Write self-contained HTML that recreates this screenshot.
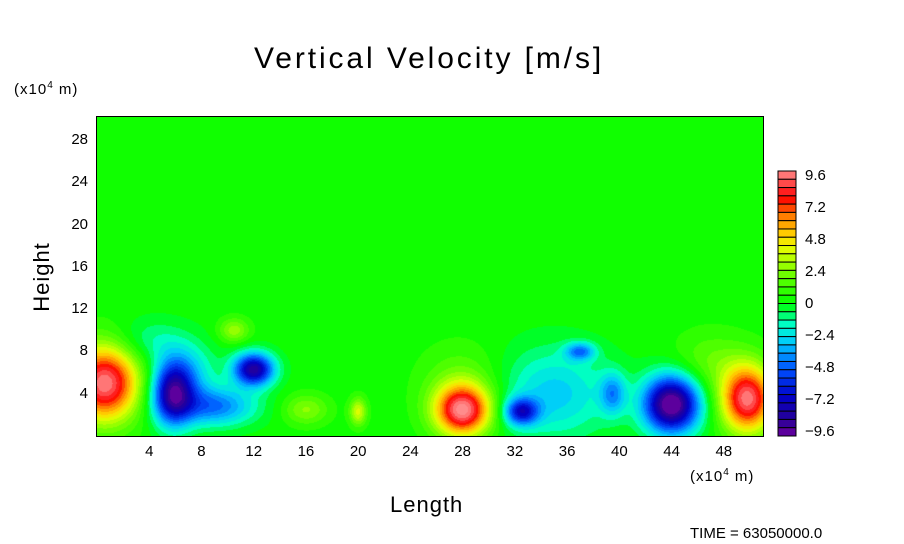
<!DOCTYPE html>
<html><head><meta charset="utf-8">
<style>
body{margin:0;background:#fff;width:904px;height:544px;overflow:hidden;position:relative;font-family:"Liberation Sans",sans-serif;}
.t{position:absolute;color:#000;white-space:nowrap;}
</style></head><body>
<div class="t" style="left:254px;top:42px;font-size:30px;letter-spacing:2.9px;">Vertical Velocity [m/s]</div>
<div class="t" style="left:14px;top:80px;font-size:15px;letter-spacing:1px;">(x10<sup style="font-size:10px">4</sup> m)</div>
<div class="t" style="left:690px;top:467px;font-size:15px;letter-spacing:1px;">(x10<sup style="font-size:10px">4</sup> m)</div>
<div class="t" style="left:2px;top:264px;font-size:22px;letter-spacing:1px;transform:rotate(-90deg);width:80px;text-align:center;">Height</div>
<div class="t" style="left:390px;top:492px;font-size:22px;letter-spacing:1px;">Length</div>
<div class="t" style="left:690px;top:525px;font-size:15px;">TIME = 63050000.0</div>
<canvas id="plot" width="666" height="319" style="position:absolute;left:97px;top:117px;"></canvas>
<div style="position:absolute;left:96px;top:116px;width:666px;height:319px;border:1px solid #000;"></div>
<div id="ticks"></div>
<svg id="cbar" width="904" height="544" style="position:absolute;left:0;top:0;pointer-events:none"></svg>
<script>
const xTicks=[4,8,12,16,20,24,28,32,36,40,44,48];
const yTicks=[4,8,12,16,20,24,28];
const cbarLabels=["9.6","7.2","4.8","2.4","0","\u22122.4","\u22124.8","\u22127.2","\u22129.6"];
// velocity blobs: centre x, centre y, amplitude, spread x, spread y
const blobX=[0.6,5.8,12,9,20,16,28,28,32.5,35,37,39.5,44,49.8,10.5,7,47,4];
const blobY=[5,4,6.3,2.8,2.3,2.5,2.4,5,2.3,4,8,4,3,3.5,10,6,7,9];
const blobA=[9.2,-7.8,-8.5,-4.5,3.5,2.2,9,1.5,-6,-3,-4,-3.5,-10.5,9,2.5,-2.5,1.5,-1.5];
const blobSX=[1.8,1.1,1.1,2.2,0.45,1.2,1.5,2.2,0.9,3,0.8,0.7,1.5,1.4,0.8,1.5,2,2];
const blobSY=[2.5,2.1,1.1,1.3,0.9,1,1.7,2.5,0.9,3,0.6,1.4,1.9,2.2,0.8,2,2,1.5];
const X0=0,X1=51,Y0=0,Y1=30.2,W=666,H=319;
const sx=v=>(v-X0)/(X1-X0)*W, sy=v=>H-(v-Y0)/(Y1-Y0)*H;
const stops=[[0,[110,0,160]],[0.06,[40,0,150]],[0.15,[0,0,200]],[0.25,[0,80,255]],[0.35,[0,200,255]],[0.42,[0,255,200]],[0.5,[0,255,0]],[0.6,[100,255,0]],[0.7,[220,255,0]],[0.75,[255,220,0]],[0.82,[255,140,0]],[0.9,[255,0,0]],[1,[255,140,140]]];
function cmap(v){let t=(v+9.6)/19.2;t=Math.max(0,Math.min(1,t));t=(Math.floor(t*32)+0.5)/32;
 for(let i=1;i<stops.length;i++){if(t<=stops[i][0]){const a=stops[i-1],b=stops[i],f=(t-a[0])/(b[0]-a[0]);return a[1].map((c,k)=>Math.round(c+(b[1][k]-c)*f));}}return stops[stops.length-1][1];}
function field(x,y){let v=0.3;for(let i=0;i<blobX.length;i++){const dx=(x-blobX[i])/blobSX[i],dy=(y-blobY[i])/blobSY[i];v+=blobA[i]*Math.exp(-0.5*(dx*dx+dy*dy));}return v;}
const ctx=document.getElementById('plot').getContext('2d');
const img=ctx.createImageData(W,H);
for(let py=0;py<H;py++)for(let px=0;px<W;px++){const x=X0+(px+0.5)/W*(X1-X0),y=Y1-(py+0.5)/H*(Y1-Y0);
 const c=cmap(field(x,y));const o=(py*W+px)*4;img.data[o]=c[0];img.data[o+1]=c[1];img.data[o+2]=c[2];img.data[o+3]=255;}
ctx.putImageData(img,0,0);
const tk=document.getElementById('ticks');
xTicks.forEach(v=>{const d=document.createElement('div');d.className='t';d.textContent=v;
 
 
 d.style.cssText=`left:${97+sx(v)-20}px;top:443px;width:40px;text-align:center;font-size:15px;`;tk.appendChild(d);});
yTicks.forEach(v=>{const d=document.createElement('div');d.className='t';d.textContent=v;
 
 
 d.style.cssText=`left:40px;top:${117+sy(v)-9}px;width:48px;text-align:right;font-size:15px;`;tk.appendChild(d);});
const svg=document.getElementById('cbar'),NS='http://www.w3.org/2000/svg';
const cTop=171,cBot=436,n=32,bh=(cBot-cTop)/n;
for(let i=0;i<n;i++){const v=9.6-(i+0.5)*0.6;const c=cmap(v);const r=document.createElementNS(NS,'rect');
 
 
 r.setAttribute('x',778);r.setAttribute('y',cTop+i*bh);r.setAttribute('width',18);r.setAttribute('height',bh);
 r.setAttribute('fill',`rgb(${c})`);r.setAttribute('stroke','#000');r.setAttribute('stroke-width','1');svg.appendChild(r);}
cbarLabels.forEach((l,i)=>{const t=document.createElementNS(NS,'text');
 
 
 t.setAttribute('x',805);t.setAttribute('y',cTop+4+i*32+5);t.setAttribute('font-size','15');t.setAttribute('font-family','Liberation Sans, sans-serif');t.textContent=l;svg.appendChild(t);});
</script>
</body></html>
